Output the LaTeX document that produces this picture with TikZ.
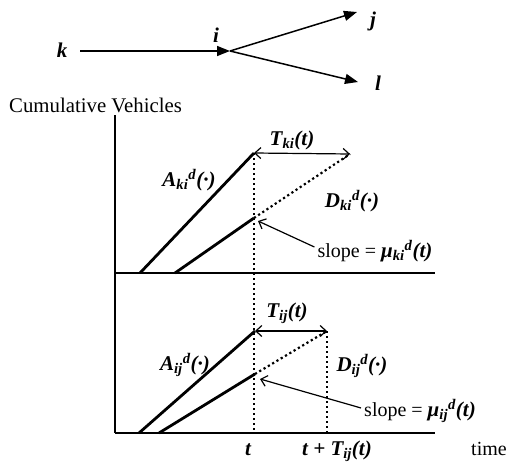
\documentclass[tikz,border=0pt]{standalone}
\usepackage{fontspec}
\setmainfont{Liberation Serif}
\usetikzlibrary{arrows.meta}
\newcommand{\mysub}[1]{\textsubscript{#1}}
\newcommand{\mysup}[1]{\textsuperscript{#1}}
\newcommand{\bigmath}{\fontsize{21}{23}\selectfont\bfseries\itshape}
\begin{document}
\begin{tikzpicture}[x=1pt,y=-1pt,
  txt/.style={inner sep=0pt,font=\fontsize{20}{22}\selectfont},
  mth/.style={inner sep=0pt,font=\fontsize{21}{23}\selectfont\bfseries\itshape},
  axis/.style={line width=1.6pt},
  curve/.style={line width=2.8pt},
  dots/.style={line width=2.2pt,dash pattern=on 2.2pt off 2.8pt},
  link/.style={line width=1.5pt,-{Triangle[length=13pt,width=10pt]}},
  span/.style={line width=1.2pt,{Straight Barb[length=6pt,width=11pt]}-{Straight Barb[length=6pt,width=11pt]}},
  point/.style={line width=1.2pt,-{Straight Barb[length=6pt,width=11pt]}}]
\useasboundingbox (0,0) rectangle (507,463);
% network
\node[mth] (k) at (62,50) {k};
\node[mth] (i) at (216,35) {i};
\node[mth] (j) at (373,21) {j};
\node[mth] (l) at (378,83) {l};
\coordinate (ks) at (80,51);
\coordinate (ic) at (230,51);
\coordinate (je) at (357,12);
\coordinate (le) at (358,82);
\draw[link] (ks) -- (ic);
\draw[link] (ic) -- (je);
\draw[link] (ic) -- (le);
% axes
\node[txt,anchor=west,font=\fontsize{20.8}{22}\selectfont] (cv) at (9,105) {Cumulative Vehicles};
\coordinate (o0) at (115,115);
\coordinate (o1) at (115,273);
\coordinate (o2) at (115,433);
\coordinate (x1) at (435,273);
\coordinate (x2) at (435,433);
\draw[axis] (o0) -- (o2);
\draw[axis] (o1) -- (x1);
\draw[axis] (o2) -- (x2);
% upper panel
\coordinate (a1s) at (140,273);
\coordinate (a1e) at (254,153);
\coordinate (d1s) at (175,273);
\coordinate (d1m) at (254,218);
\coordinate (d1e) at (350,154);
\coordinate (t1b) at (254,433);
\draw[curve] (a1s) -- (a1e);
\draw[curve] (d1s) -- (d1m);
\draw[dots] (d1m) -- (d1e);
\draw[dots] (a1e) -- (t1b);
\draw[span] (a1e) -- (d1e);
\node[mth] (T1) at (292,140) {T\mysub{ki}(t)};
\node[mth] (A1) at (189,180) {A\mysub{ki}\mysup{d}(·)};
\node[mth] (D1) at (352,201) {D\mysub{ki}\mysup{d}(·)};
\node[txt] (s1) at (375,251) {slope = {\bigmath μ\mysub{ki}\mysup{d}(t)}};
\coordinate (s1t) at (258,221);
\draw[point] (s1.west) ++(-3,-4) coordinate (s1f) (s1f) -- (s1t);
% lower panel
\coordinate (a2s) at (139,433);
\coordinate (a2e) at (255,331);
\coordinate (d2s) at (159,433);
\coordinate (d2m) at (255,374);
\coordinate (d2e) at (327,331);
\coordinate (t2b) at (327,433);
\draw[curve] (a2s) -- (a2e);
\draw[curve] (d2s) -- (d2m);
\draw[dots] (d2m) -- (d2e);
\draw[dots] (d2e) -- (t2b);
\draw[span] (a2e) -- (d2e);
\node[mth] (T2) at (287,313) {T\mysub{ij}(t)};
\node[mth] (A2) at (185,365) {A\mysub{ij}\mysup{d}(·)};
\node[mth] (D2) at (362,366) {D\mysub{ij}\mysup{d}(·)};
\node[txt] (s2) at (420,411) {slope = {\bigmath μ\mysub{ij}\mysup{d}(t)}};
\coordinate (s2t) at (260,379);
\draw[point] (s2.west) ++(-3,-3) coordinate (s2f) (s2f) -- (s2t);
% time labels
\node[mth,anchor=base] (tl) at (248,455) {t};
\node[mth,anchor=base] (ttl) at (337,455) {t + T\mysub{ij}(t)};
\node[txt,anchor=base] (time) at (489,455) {time};
\end{tikzpicture}
\end{document}
